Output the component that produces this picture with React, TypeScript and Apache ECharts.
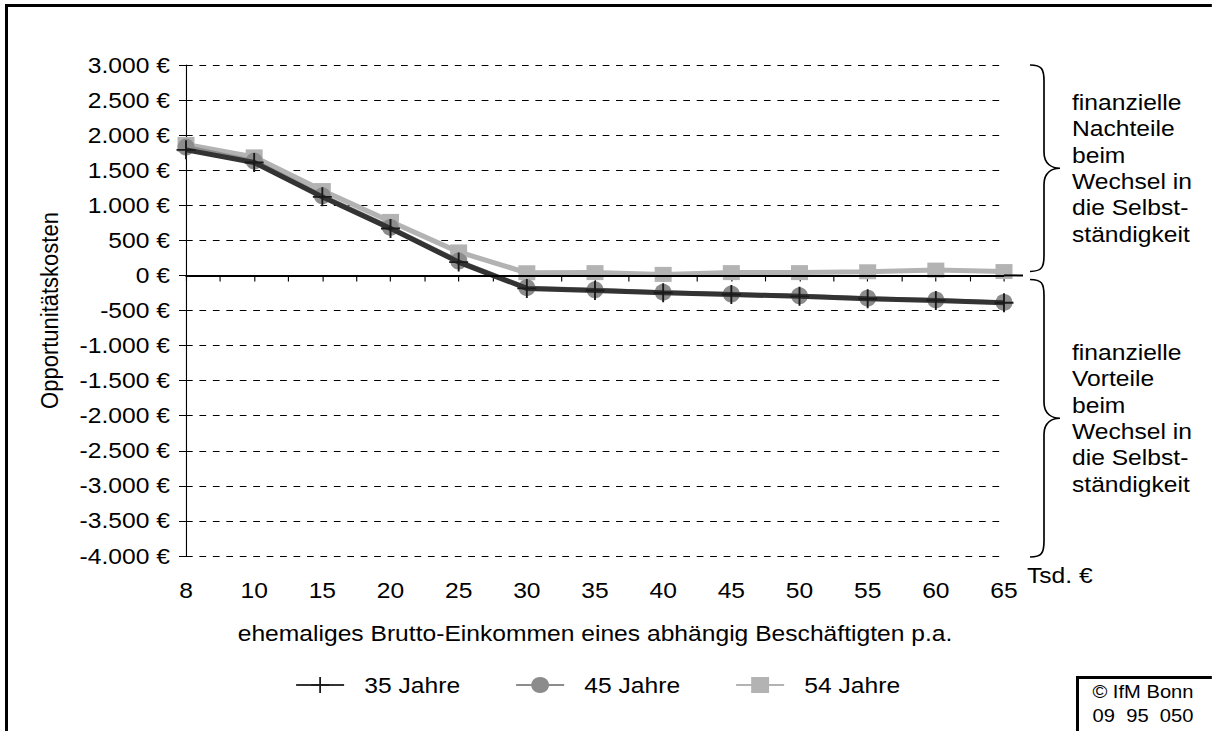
import React, { useEffect, useRef } from "react";
import * as echarts from "echarts";

const categories = ["8", "10", "15", "20", "25", "30", "35", "40", "45", "50", "55", "60", "65"];
const series35 = [1790, 1610, 1120, 670, 190, -185, -215, -248, -272, -298, -332, -356, -390];
const series45 = [1830, 1630, 1135, 685, 205, -175, -205, -240, -265, -290, -325, -350, -385];
const series54 = [1868, 1690, 1210, 770, 335, 38, 40, 15, 40, 40, 52, 76, 55];
const seriesNames = ["35 Jahre", "45 Jahre", "54 Jahre"];
const yMin = -4000;
const yMax = 3000;
const yInterval = 500;
const upperNote = "finanzielle\nNachteile\nbeim\nWechsel in\ndie Selbst-\nständigkeit";
const lowerNote = "finanzielle\nVorteile\nbeim\nWechsel in\ndie Selbst-\nständigkeit";
const xUnit = "Tsd. €";
const xTitle = "ehemaliges Brutto-Einkommen eines abhängig Beschäftigten p.a.";
const yTitle = "Opportunitätskosten";
const copyright = ["© IfM Bonn", "09  95  050"];

// The reference picture is stretched horizontally; render narrower and stretch.
const S = 1.12;
const W = 1212;
const H = 731;
const W0 = W / S;
const X = (x: number) => x / S;
const GRID = { left: X(186), right: X(W - 1004), top: 65, bottom: 175 };
const FONT = "'Liberation Sans', Arial, Helvetica, sans-serif";
const FS = 22;

function fmtEuro(v: number): string {
  const s = Math.abs(v).toString().replace(/\B(?=(\d{3})+(?!\d))/g, ".");
  return (v < 0 ? "-" : "") + s + " €";
}

function yPix(v: number): number {
  const h = H - GRID.top - GRID.bottom;
  return GRID.top + ((yMax - v) / (yMax - yMin)) * h;
}

function bracePath(x0: number, y0: number, y1: number, x1: number, xt: number): string {
  const ym = (y0 + y1) / 2;
  const r = 16;
  return (
    `M${x0},${y0} C${x1 - 2},${y0} ${x1},${y0 + 4} ${x1},${y0 + r} ` +
    `L${x1},${ym - r} C${x1},${ym - 4} ${xt - 7},${ym} ${xt},${ym} ` +
    `C${xt - 7},${ym} ${x1},${ym + 4} ${x1},${ym + r} ` +
    `L${x1},${y1 - r} C${x1},${y1 - 4} ${x1 - 2},${y1} ${x0},${y1}`
  );
}

const PLUS = "path://M-1,-10L1,-10L1,10L-1,10Z M-10,-1L10,-1L10,1L-10,1Z";

export default function App() {
  const ref = useRef<HTMLDivElement>(null);

  useEffect(() => {
    document.body.style.margin = "0";
    if (!ref.current) return;
    const zeroY = yPix(0);
    const topY = yPix(yMax);
    const botY = yPix(yMin);
    echarts.graphic.registerShape(
      "braceTop",
      echarts.graphic.extendPath(bracePath(X(1030), topY, zeroY - 4, X(1044), X(1060)), {})
    );
    echarts.graphic.registerShape(
      "braceBottom",
      echarts.graphic.extendPath(bracePath(X(1030), zeroY + 4, botY + 1, X(1044), X(1060)), {})
    );

    const chart = echarts.init(ref.current, undefined, { renderer: "svg", width: W0, height: H });

    const data = (arr: number[]) => arr.map((v, i) => [i, v]);

    const option: any = {
      animation: false,
      backgroundColor: "#ffffff",
      textStyle: { fontFamily: FONT },
      grid: { ...GRID, containLabel: false },
      legend: [0, 1, 2].map((k) => ({
        data: [seriesNames[k]],
        left: X([295, 515, 735][k]),
        top: 674,
        padding: 0,
        itemWidth: X(48),
        itemHeight: 20,
        itemGap: 0,
        selectedMode: false,
        textStyle: { fontFamily: FONT, fontSize: FS, color: "#000", padding: [0, 0, 0, 13] },
      })),
      xAxis: {
        type: "value",
        min: 0,
        max: categories.length - 1,
        interval: 1,
        name: xTitle,
        nameLocation: "middle",
        nameGap: 66,
        nameTextStyle: { fontFamily: FONT, fontSize: FS, color: "#000" },
        axisLine: { show: true, lineStyle: { color: "#555", width: 2 } },
        axisTick: { show: true, length: 6, lineStyle: { color: "#000", width: 1 } },
        minorTick: { show: true, splitNumber: 2, length: 6, lineStyle: { color: "#000", width: 1 } },
        splitLine: { show: false },
        minorSplitLine: { show: false },
        axisLabel: {
          margin: 23,
          fontFamily: FONT,
          fontSize: FS,
          color: "#000",
          formatter: (v: number) => categories[Math.round(v)] ?? "",
        },
      },
      yAxis: {
        type: "value",
        min: yMin,
        max: yMax,
        interval: yInterval,
        name: yTitle,
        nameLocation: "middle",
        nameGap: X(124),
        nameTextStyle: { fontFamily: FONT, fontSize: FS, color: "#000" },
        axisLine: { show: true, lineStyle: { color: "#000", width: 1 } },
        axisTick: { show: true, length: X(7), lineStyle: { color: "#000", width: 1 } },
        splitLine: { show: true, lineStyle: { color: "#000", width: 1, type: [6, 6] } },
        axisLabel: {
          margin: X(16),
          fontFamily: FONT,
          fontSize: FS,
          color: "#000",
          formatter: (v: number) => fmtEuro(v),
        },
      },
      series: [
        {
          name: seriesNames[0],
          type: "line",
          z: 4,
          data: data(series35),
          symbol: PLUS,
          symbolSize: [X(19), 19],
          lineStyle: { color: "#333333", width: 5 },
          itemStyle: { color: "#1a1a1a" },
          markLine: {
            silent: true,
            symbol: "none",
            z: 10,
            label: { show: false },
            lineStyle: { color: "#000", width: 2, type: "solid" },
            data: [{ yAxis: 0 }],
          },
        },
        {
          name: seriesNames[1],
          type: "line",
          z: 3,
          data: data(series45),
          symbol: "circle",
          symbolSize: [X(17), 17],
          lineStyle: { color: "#8c8c8c", width: 4 },
          itemStyle: { color: "#8c8c8c" },
        },
        {
          name: seriesNames[2],
          type: "line",
          z: 2,
          data: data(series54),
          symbol: "rect",
          symbolSize: [X(17), 15],
          lineStyle: { color: "#b3b3b3", width: 5 },
          itemStyle: { color: "#b3b3b3" },
        },
      ],
      graphic: [
        { type: "line", shape: { x1: X(6.5), y1: 4, x2: X(6.5), y2: H }, style: { stroke: "#000", lineWidth: X(3) } },
        { type: "line", shape: { x1: X(5), y1: 5.5, x2: W0, y2: 5.5 }, style: { stroke: "#000", lineWidth: 3 } },
        { type: "line", shape: { x1: X(1077.5), y1: 677.5, x2: X(1077.5), y2: H }, style: { stroke: "#000", lineWidth: X(3) } },
        { type: "line", shape: { x1: X(1076), y1: 677.5, x2: W0, y2: 677.5 }, style: { stroke: "#000", lineWidth: 3 } },
        { type: "line", z: 20, shape: { x1: X(1004), y1: zeroY, x2: X(1023), y2: zeroY }, style: { stroke: "#000", lineWidth: 2 } },
        {
          type: "text",
          style: { text: copyright[0], x: X(1143), y: 692, textAlign: "center", textVerticalAlign: "middle", font: `18px ${FONT}`, fill: "#000" },
        },
        {
          type: "text",
          style: { text: copyright[1], x: X(1143), y: 716, textAlign: "center", textVerticalAlign: "middle", font: `18px ${FONT}`, fill: "#000" },
        },
        { type: "braceTop", x: 0, y: 0, style: { stroke: "#000", fill: "none", lineWidth: 1.5 } },
        { type: "braceBottom", x: 0, y: 0, style: { stroke: "#000", fill: "none", lineWidth: 1.5 } },
        {
          type: "text",
          style: {
            text: upperNote, x: X(1072), y: (topY + zeroY - 4) / 2, textVerticalAlign: "middle",
            font: `${FS}px ${FONT}`, lineHeight: 26.4, fill: "#000",
          },
        },
        {
          type: "text",
          style: {
            text: lowerNote, x: X(1072), y: (zeroY + 4 + botY + 1) / 2, textVerticalAlign: "middle",
            font: `${FS}px ${FONT}`, lineHeight: 26.4, fill: "#000",
          },
        },
        {
          type: "text",
          style: { text: xUnit, x: X(1027), y: 575, textVerticalAlign: "middle", font: `${FS}px ${FONT}`, fill: "#000" },
        },
      ],
    };

    chart.setOption(option);
    return () => chart.dispose();
  }, []);

  return (
    <div style={{ width: W, height: H, overflow: "hidden", position: "relative" }}>
      <div
        ref={ref}
        style={{ width: W0, height: H, transform: `scaleX(${S})`, transformOrigin: "0 0" }}
      />
    </div>
  );
}
